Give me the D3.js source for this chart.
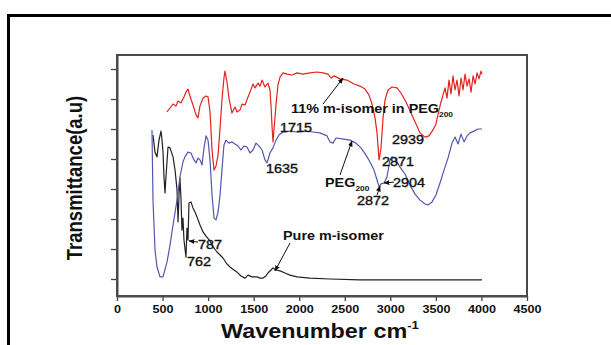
<!DOCTYPE html>
<html><head><meta charset="utf-8">
<script src="https://cdn.jsdelivr.net/npm/d3@7"></script>
<style>body{margin:0;background:#fff}svg{display:block}text{font-family:"Liberation Sans",Arial,sans-serif}</style>
</head><body><svg id="c" width="611" height="345"></svg>
<script>
// wavenumber (cm-1), transmittance (a.u.)
const mIsomerInPEG = [[549,5.57],[582,5.70],[615,5.83],[648,5.77],[670,5.93],[702,5.87],[735,6.07],[757,6.23],[779,6.33],[801,6.10],[834,5.80],[867,5.47],[889,5.37],[911,5.77],[944,6.03],[977,6.10],[999,6.07],[1021,5.57],[1043,4.30],[1065,3.63],[1087,3.77],[1109,4.13],[1131,5.03],[1152,5.97],[1174,6.70],[1185,6.93],[1207,6.57],[1229,6.03],[1262,5.53],[1295,5.73],[1317,5.57],[1350,5.63],[1372,5.83],[1405,5.80],[1438,6.07],[1460,6.23],[1493,6.50],[1515,6.37],[1548,6.53],[1570,6.43],[1592,6.63],[1624,6.40],[1657,6.53],[1679,6.30],[1690,5.80],[1701,5.13],[1712,4.57],[1723,4.97],[1745,5.80],[1767,6.47],[1789,6.73],[1822,6.87],[1866,6.83],[1921,6.80],[1976,6.87],[2041,6.83],[2118,6.87],[2195,6.90],[2261,6.87],[2316,6.83],[2349,6.70],[2382,6.77],[2448,6.67],[2524,6.63],[2601,6.50],[2667,6.43],[2722,6.33],[2766,6.13],[2799,5.83],[2832,5.37],[2854,4.87],[2876,3.97],[2898,4.37],[2920,5.37],[2942,5.97],[2974,6.30],[3018,6.40],[3073,6.37],[3117,6.20],[3172,5.90],[3227,5.53],[3282,5.17],[3326,4.87],[3381,4.73],[3424,4.77],[3468,4.97],[3501,5.17],[3534,5.63],[3556,5.90],[3578,6.13],[3600,6.37],[3622,6.03],[3644,6.63],[3666,6.17],[3688,6.77],[3710,6.30],[3732,6.63],[3754,6.10],[3776,6.70],[3798,6.30],[3820,6.83],[3842,6.43],[3864,6.67],[3886,6.23],[3908,6.77],[3930,6.50],[3952,6.87],[3973,6.67],[3995,6.93],[4006,6.83]];
const peg200 = [[384,4.97],[395,2.63],[417,0.97],[439,0.40],[472,0.07],[505,0.07],[549,0.57],[582,1.13],[615,1.80],[659,2.63],[691,3.40],[724,3.90],[746,4.07],[779,4.23],[812,4.20],[845,3.97],[867,3.87],[889,4.03],[911,3.97],[933,3.80],[955,4.37],[977,4.77],[999,4.63],[1021,3.97],[1043,2.80],[1065,2.03],[1087,1.97],[1109,2.23],[1131,2.80],[1152,3.63],[1174,4.47],[1196,4.63],[1229,4.53],[1262,4.57],[1295,4.50],[1328,4.43],[1361,4.30],[1394,4.43],[1427,4.40],[1460,4.20],[1493,4.30],[1526,4.53],[1559,4.43],[1592,4.30],[1624,3.97],[1646,3.87],[1679,4.20],[1712,4.37],[1745,4.63],[1778,4.80],[1822,4.90],[1899,4.93],[1976,4.90],[2063,4.93],[2151,4.90],[2228,4.87],[2305,4.77],[2338,4.57],[2371,4.53],[2404,4.70],[2470,4.67],[2557,4.63],[2623,4.53],[2678,4.37],[2733,4.13],[2777,3.90],[2821,3.63],[2854,3.30],[2876,3.07],[2898,3.17],[2931,3.20],[2963,3.40],[2996,3.97],[3018,4.07],[3051,4.03],[3106,3.73],[3161,3.50],[3217,3.13],[3271,2.83],[3326,2.63],[3381,2.50],[3414,2.47],[3458,2.57],[3501,2.80],[3545,3.20],[3589,3.63],[3633,4.03],[3677,4.53],[3710,4.73],[3743,4.50],[3776,4.83],[3809,4.57],[3842,4.77],[3875,4.87],[3919,4.93],[3963,5.00],[4006,5.00]];
const pureMIsomer = [[395,4.80],[417,4.23],[439,4.07],[461,4.63],[483,4.93],[494,4.63],[505,4.23],[516,3.37],[527,2.87],[538,3.43],[560,4.40],[582,4.37],[615,4.07],[637,3.63],[659,2.97],[670,1.90],[681,2.80],[691,3.37],[702,2.70],[713,1.63],[724,2.03],[735,1.30],[757,0.73],[768,1.70],[779,1.30],[790,2.53],[812,2.57],[834,2.37],[856,2.23],[878,2.07],[911,1.80],[944,1.57],[977,1.43],[1021,1.27],[1054,1.07],[1098,0.90],[1131,0.80],[1163,0.70],[1207,0.50],[1240,0.40],[1284,0.30],[1317,0.23],[1361,0.10],[1405,0.03],[1438,0.13],[1482,0.07],[1537,0.07],[1570,0.03],[1602,0.03],[1635,0.10],[1657,0.20],[1690,0.30],[1712,0.37],[1745,0.30],[1789,0.27],[1844,0.20],[1899,0.13],[1976,0.07],[2118,0.03],[2338,0.00],[2667,-0.03],[3106,-0.03],[4006,-0.03]];
const xTicks = [0,500,1000,1500,2000,2500,3000,3500,4000,4500];
const yTicks = [0,1,2,3,4,5,6,7];
// annotations: text, subscript, anchor [w,t], bold, arrow from/to
const labels = [
  {t:"11% m-isomer in PEG", sub:"200", at:[1910,5.53], bold:true, arrow:[[2261,5.83],[2481,6.70]]},
  {t:"1715", at:[1789,4.90]},
  {t:"1635", at:[1635,3.53]},
  {t:"2939", at:[3018,4.50]},
  {t:"2871", at:[2909,3.77]},
  {t:"PEG", sub:"200", at:[2283,3.07], bold:true, arrow:[[2448,3.47],[2579,4.60]]},
  {t:"2904", at:[3029,3.07], arrow:[[3040,3.23],[2931,3.20]]},
  {t:"2872", at:[2634,2.47], arrow:[[2854,2.80],[2887,3.10]]},
  {t:"Pure m-isomer", at:[1822,1.30], bold:true, arrow:[[1899,1.20],[1734,0.27]]},
  {t:"787", at:[889,1.00], arrow:[[889,1.23],[790,1.27]]},
  {t:"762", at:[768,0.43]}
];

const svg = d3.select("#c");
const SX = 1.2;
svg.append("rect").attr("x",8.5).attr("y",15.5).attr("width",700).attr("height",400)
  .attr("fill","none").attr("stroke","#000").attr("stroke-width",3);

const x = d3.scaleLinear().domain([0,4500]).range([117,527]);
const y = d3.scaleLinear().domain([-17/30,224/30]).range([296,55]);

const xa = svg.append("g").attr("transform",`translate(0,${y.range()[0]})`)
  .call(d3.axisBottom(x).tickValues(xTicks).tickFormat(d3.format("d")).tickSize(5).tickSizeOuter(0).tickPadding(5));
xa.selectAll("text").attr("font-size",10.5).attr("font-weight","bold").attr("fill","#111")
  .attr("transform",`scale(${SX},1)`);
const ya = svg.append("g").attr("transform",`translate(${x.range()[0]},0)`)
  .call(d3.axisLeft(y).tickValues(yTicks).tickFormat("").tickSize(6).tickSizeOuter(0));
[xa,ya].forEach(a=>{a.selectAll("line").attr("stroke","#444").attr("stroke-width",1.3);a.select(".domain").attr("stroke","#444").attr("stroke-width",2);});

svg.append("rect").attr("x",x(0)).attr("y",y.range()[1]).attr("width",x(4500)-x(0)).attr("height",y.range()[0]-y.range()[1])
  .attr("fill","none").attr("stroke","#4a4a4a").attr("stroke-width",2);

const line = d3.line().x(d=>x(d[0])).y(d=>y(d[1]));
const series = [[pureMIsomer,"#222"],[peg200,"#5257ad"],[mIsomerInPEG,"#e3231f"]];
series.forEach(([d,c])=>svg.append("path").datum(d).attr("d",line).attr("fill","none")
  .attr("stroke",c).attr("stroke-width",1.2).attr("stroke-linejoin","round"));

svg.append("defs").append("marker").attr("id","ah").attr("viewBox","0 0 10 10").attr("refX",9).attr("refY",5)
  .attr("markerWidth",6).attr("markerHeight",6).attr("orient","auto-start-reverse")
  .append("path").attr("d","M0,1L10,5L0,9Z").attr("fill","#111");

labels.forEach(l=>{
  if(l.arrow){
    svg.append("line").attr("x1",x(l.arrow[0][0])).attr("y1",y(l.arrow[0][1]))
      .attr("x2",x(l.arrow[1][0])).attr("y2",y(l.arrow[1][1]))
      .attr("stroke","#111").attr("stroke-width",1).attr("marker-end","url(#ah)");
  }
  const t = svg.append("text").attr("transform",`translate(${x(l.at[0])},${y(l.at[1])}) scale(${SX},1)`)
    .attr("font-size",12).attr("font-weight",l.bold?"bold":"normal").attr("fill","#111").text(l.t);
  if(!l.bold) t.attr("stroke","#111").attr("stroke-width",0.35);
  if(l.sub) t.append("tspan").attr("font-size",7).attr("dy",4).text(l.sub);
});

const xt = svg.append("text").attr("transform",`translate(320,338) scale(${SX},1)`)
  .attr("text-anchor","middle").attr("font-size",19.5).attr("font-weight","bold").attr("fill","#111");
xt.append("tspan").text("Wavenumber cm");
xt.append("tspan").attr("font-size",11).attr("dy",-9).text("-1");
svg.append("text").attr("transform",`translate(82,178) scale(${SX},1) rotate(-90)`)
  .attr("text-anchor","middle").attr("font-size",18.5).attr("font-weight","bold").attr("fill","#111")
  .text("Transmittance(a.u)");
</script></body></html>
